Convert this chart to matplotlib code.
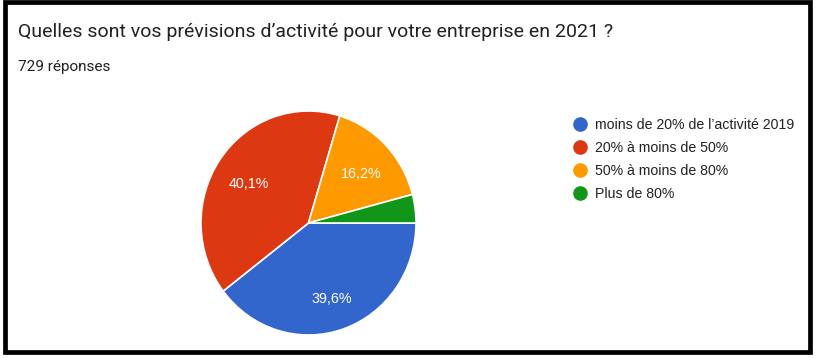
import matplotlib.pyplot as plt
from matplotlib.lines import Line2D
from matplotlib.patches import Rectangle

title = "Quelles sont vos prévisions d\u2019activité pour votre entreprise en 2021 ?"
subtitle = "729 réponses"
labels = ["moins de 20% de l\u2019activité 2019", "20% à moins de 50%",
          "50% à moins de 80%", "Plus de 80%"]
values = [39.6, 40.1, 16.2, 4.1]
colors = ["#3366cc", "#dc3912", "#ff9900", "#109618"]

W, H = 816, 358
fig = plt.figure(figsize=(W / 100, H / 100), dpi=100)
fig.patch.set_facecolor("white")


def px(x0, y0, x1, y1):
    # pixel box (top-left origin) -> figure fraction
    return [x0 / W, 1 - y1 / H, (x1 - x0) / W, (y1 - y0) / H]


# black frame
fig.patches.append(Rectangle((4.5 / W, 6 / H), 805.5 / W, 350 / H,
                             transform=fig.transFigure, fill=False,
                             edgecolor="black", linewidth=3.4))

fig.text(18 / W, 1 - 32 / H, title, fontsize=14, family="Roboto",
         color="#202124", va="center", ha="left")
fig.text(18 / W, 1 - 67 / H, subtitle, fontsize=11, family="Roboto",
         color="#202124", va="center", ha="left")


def fmt(p):
    if p < 5:
        return ""
    return ("%.1f%%" % p).replace(".", ",")


ax = fig.add_axes(px(201, 111, 416, 335))
wedges, texts, autotexts = ax.pie(values, colors=colors, startangle=0,
                                  counterclock=False, autopct=fmt,
                                  pctdistance=0.68,
                                  wedgeprops=dict(edgecolor="white", linewidth=1.2),
                                  textprops=dict(color="white", fontsize=10.3,
                                                 family="Liberation Sans"))
for t in autotexts:
    x, y = t.get_position()
    t.set_position((x, y - 0.035))
ax.set_aspect("auto")
ax.set_xlim(-1, 1)
ax.set_ylim(-1, 1)

handles = [Line2D([], [], marker="o", linestyle="none", markersize=9.5,
                  markerfacecolor=c, markeredgecolor=c) for c in colors]
fig.legend(handles, labels, loc="upper left",
           bbox_to_anchor=(567 / W, 1 - 111 / H), frameon=False,
           prop=dict(family="Liberation Sans", size=10.2), handlelength=0.8,
           handletextpad=0.7, labelspacing=0.64, borderpad=0,
           labelcolor="#222222")

fig.savefig("out.png", dpi=100, facecolor="white")
